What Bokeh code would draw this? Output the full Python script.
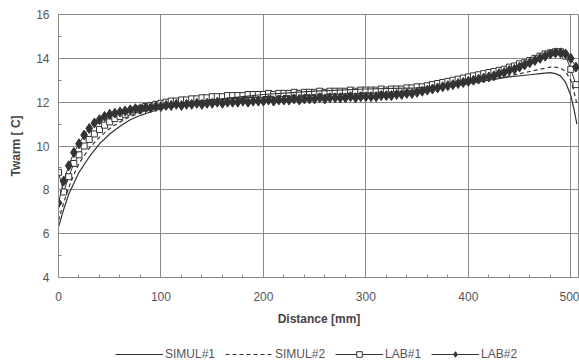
from bokeh.plotting import figure
from bokeh.layouts import column
from bokeh.models import SingleIntervalTicker, Legend, LegendItem, Range1d
from bokeh.embed import file_html
from bokeh.resources import INLINE

# ---- data ----
lab_x = list(range(0, 506, 5))

lab1_y = [8.8, 7.9, 8.6, 9.2, 9.6, 10.0, 10.3, 10.55, 10.75, 10.95, 11.1, 11.25, 11.35, 11.45, 11.55, 11.65, 11.7, 11.8, 11.85, 11.9, 11.95,
          12.0, 12.05, 12.05, 12.1, 12.1, 12.15, 12.15, 12.2, 12.2, 12.25, 12.25, 12.25, 12.3, 12.3, 12.3, 12.3, 12.35, 12.35, 12.35, 12.35,
          12.4, 12.35, 12.4, 12.4, 12.4, 12.45, 12.4, 12.45, 12.45, 12.45, 12.5, 12.45, 12.5, 12.5, 12.5, 12.5, 12.55, 12.5, 12.55, 12.55,
          12.55, 12.55, 12.6, 12.55, 12.6, 12.6, 12.6, 12.65, 12.65, 12.7, 12.7, 12.75, 12.8, 12.85, 12.9, 12.95, 13.0, 13.05, 13.1, 13.15,
          13.2, 13.25, 13.3, 13.35, 13.4, 13.45, 13.5, 13.6, 13.65, 13.75, 13.8, 13.9, 14.0, 14.1, 14.2, 14.25, 14.3, 14.3, 14.1, 13.5, 12.8]

lab2_y = [7.4, 8.4, 9.1, 9.7, 10.1, 10.5, 10.8, 11.05, 11.2, 11.35, 11.45, 11.5, 11.55, 11.6, 11.65, 11.7, 11.7, 11.75, 11.75, 11.8, 11.8,
          11.85, 11.85, 11.9, 11.85, 11.9, 11.9, 11.95, 11.9, 11.95, 11.95, 12.0, 11.95, 12.0, 12.0, 12.0, 12.05, 12.0, 12.05, 12.05, 12.05,
          12.1, 12.05, 12.1, 12.1, 12.1, 12.15, 12.1, 12.15, 12.15, 12.15, 12.2, 12.15, 12.2, 12.2, 12.2, 12.2, 12.25, 12.2, 12.25, 12.25,
          12.25, 12.25, 12.3, 12.3, 12.3, 12.35, 12.35, 12.4, 12.4, 12.45, 12.5, 12.55, 12.6, 12.65, 12.7, 12.75, 12.8, 12.85, 12.9, 12.95,
          13.0, 13.05, 13.1, 13.15, 13.2, 13.3, 13.35, 13.45, 13.5, 13.6, 13.7, 13.8, 13.9, 14.0, 14.1, 14.2, 14.25, 14.25, 14.2, 14.0, 13.6]

sim_x = [0, 5, 10, 15, 20, 30, 40, 50, 60, 70, 80, 90, 100, 120, 140, 160, 180, 200, 250, 300, 350, 380, 400, 420, 440, 460, 470,
         480, 485, 490, 495, 500, 503, 506]
sim1_y = [6.3, 7.1, 7.8, 8.3, 8.8, 9.5, 10.1, 10.55, 10.9, 11.2, 11.4, 11.55, 11.7, 11.9, 12.05, 12.15, 12.25, 12.35, 12.5, 12.6,
          12.65, 12.75, 12.85, 13.0, 13.15, 13.25, 13.3, 13.35, 13.3, 13.2, 12.9, 12.3, 11.7, 11.0]
sim2_y = [6.6, 7.4, 8.1, 8.7, 9.2, 9.9, 10.4, 10.8, 11.1, 11.35, 11.5, 11.65, 11.75, 11.95, 12.05, 12.15, 12.2, 12.25, 12.35, 12.4,
          12.45, 12.7, 12.85, 13.0, 13.2, 13.4, 13.5, 13.6, 13.6, 13.55, 13.4, 13.0, 12.5, 11.9]

x_label = "Distance [mm]"
y_label = "Twarm [ C]"
series_names = ["SIMUL#1", "SIMUL#2", "LAB#1", "LAB#2"]

DARK = "#333333"
GRID = "#8a8a8a"
TXT = "#555555"
FONT = "Liberation Sans"

p = figure(width=579, height=333, x_range=(0, 508.5), y_range=(4, 16),
           output_backend="svg", toolbar_location=None,
           min_border_left=58, min_border_right=0, min_border_top=14, min_border_bottom=56)
p.outline_line_color = GRID
p.background_fill_color = "white"

line_kw = dict(line_color=DARK, line_width=1)
sim1_kw = dict(line_color=DARK, line_width=1.2)
sim2_kw = dict(line_color=DARK, line_width=1.2, line_dash="4 3")
sq_kw = dict(marker="square", size=6, fill_color="white", line_color=DARK, line_width=1)
di_kw = dict(marker="diamond", size=10, fill_color=DARK, line_color=DARK)

# glyphs
p.line(lab_x, lab1_y, **line_kw)
p.scatter(lab_x, lab1_y, **sq_kw)
p.line(lab_x, lab2_y, **line_kw)
p.scatter(lab_x, lab2_y, **di_kw)
p.line(sim_x, sim1_y, **sim1_kw)
p.line(sim_x, sim2_y, **sim2_kw)

# axes
p.xaxis.ticker = SingleIntervalTicker(interval=100, num_minor_ticks=5)
p.yaxis.ticker = SingleIntervalTicker(interval=2, num_minor_ticks=2)
for ax in (p.xaxis, p.yaxis):
    ax.axis_line_color = GRID
    ax.major_tick_line_color = GRID
    ax.minor_tick_line_color = GRID
    ax.major_tick_in = 5
    ax.major_tick_out = 0
    ax.minor_tick_in = 3
    ax.minor_tick_out = 0
    ax.major_label_text_font = FONT
    ax.major_label_text_font_size = "12px"
    ax.major_label_text_color = TXT
    ax.axis_label_text_font = FONT
    ax.axis_label_text_font_size = "12px"
    ax.axis_label_text_font_style = "bold"
    ax.axis_label_text_color = "#444444"
p.xaxis.axis_label = x_label
p.yaxis.axis_label = y_label
p.xaxis.major_label_standoff = 14
p.xaxis.axis_label_standoff = 8
p.yaxis.major_label_standoff = 9
p.yaxis.axis_label_standoff = 10

p.xgrid.grid_line_color = GRID
p.ygrid.grid_line_color = GRID
p.xgrid.grid_line_width = 1
p.ygrid.grid_line_width = 1

# ---- legend strip below the chart (same series, drawn outside its tiny range) ----
lg = figure(width=579, height=30, x_range=Range1d(0, 1), y_range=Range1d(0, 1),
            output_backend="svg", toolbar_location=None,
            min_border_left=0, min_border_right=0, min_border_top=0, min_border_bottom=0)
lg.axis.visible = False
lg.grid.visible = False
lg.outline_line_color = None
e1 = lg.line(sim_x, sim1_y, **sim1_kw)
e2 = lg.line(sim_x, sim2_y, **sim2_kw)
e3a = lg.line(lab_x, lab1_y, **line_kw)
e3b = lg.scatter(lab_x, lab1_y, **sq_kw)
e4a = lg.line(lab_x, lab2_y, **line_kw)
e4b = lg.scatter(lab_x, lab2_y, marker="diamond", size=9, fill_color=DARK, line_color=DARK)

legend = Legend(items=[
    LegendItem(label=series_names[0], renderers=[e1]),
    LegendItem(label=series_names[1], renderers=[e2]),
    LegendItem(label=series_names[2], renderers=[e3a, e3b]),
    LegendItem(label=series_names[3], renderers=[e4a, e4b]),
], orientation="horizontal", location=(57, 2))
legend.label_text_font = FONT
legend.label_text_font_size = "12px"
legend.label_text_color = TXT
legend.glyph_width = 48
legend.glyph_height = 14
legend.label_standoff = 2
legend.spacing = 10
legend.padding = 0
legend.margin = 0
legend.border_line_alpha = 0
legend.background_fill_alpha = 0
lg.add_layout(legend, "center")

layout = column(p, lg, spacing=0)
open("out.html", "w").write(file_html(layout, INLINE))
